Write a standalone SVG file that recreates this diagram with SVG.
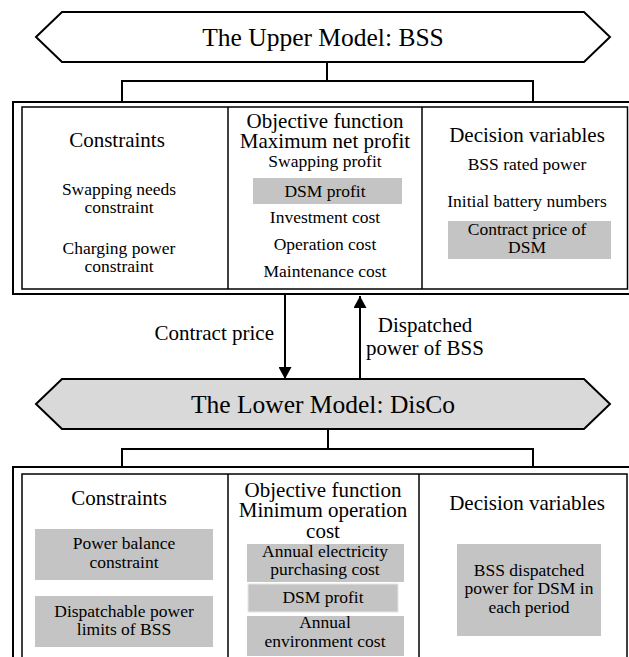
<svg xmlns="http://www.w3.org/2000/svg" width="629" height="657" viewBox="0 0 629 657">
<style>
text{font-family:"Liberation Serif","Times New Roman",serif;fill:#000;text-anchor:middle}
.t{font-size:25.5px}
.h{font-size:21px}
.b{font-size:17.5px}
.ln{stroke:#000;stroke-width:2;fill:none}
.thin{stroke:#000;stroke-width:1.5;fill:none}
.g{fill:#c4c4c4}
</style>
<defs>
<marker id="ah" viewBox="0 0 12 13" refX="12" refY="6.5" markerWidth="12" markerHeight="13" markerUnits="userSpaceOnUse" orient="auto">
<path d="M0,0 L12,6.5 L0,13 Z" fill="#000"/>
</marker>
</defs>
<rect width="629" height="657" fill="#fff"/>

<g id="upper-title">
<polygon points="36,37 62,12 584,12 610,37 584,62 62,62" fill="#fff" stroke="#000" stroke-width="2"/>
<text class="t" x="323" y="46">The Upper Model: BSS</text>
</g>

<g id="lower-title">
<polygon points="36,404 62,379 584,379 610,404 584,429 62,429" fill="#d9d9d9" stroke="#000" stroke-width="2"/>
<text class="t" x="323" y="413">The Lower Model: DisCo</text>
</g>

<g id="connectors">
<path class="ln" d="M327,62 V81 M122,102 V81 H533 V102"/>
<path class="ln" d="M328,429 V449 M122,467 V449 H533 V467"/>
<line class="ln" x1="285" y1="295" x2="285" y2="379" marker-end="url(#ah)"/>
<line class="ln" x1="360" y1="379" x2="360" y2="296" marker-end="url(#ah)"/>
<text class="h" x="274" y="340" style="text-anchor:end">Contract price</text>
<text class="h" x="425" y="332">Dispatched</text>
<text class="h" x="425" y="355">power of BSS</text>
</g>

<g id="upper-box">
<rect x="13" y="102" width="640" height="192" fill="#fff" stroke="#000" stroke-width="2"/>
<rect x="22" y="107" width="605.5" height="182" fill="none" stroke="#000" stroke-width="1.5"/>
<line class="thin" x1="228" y1="107" x2="228" y2="289"/>
<line class="thin" x1="422" y1="107" x2="422" y2="289"/>
</g>

<g id="upper-constraints">
<text class="h" x="117" y="147">Constraints</text>
<text class="b" x="119" y="195">Swapping needs</text>
<text class="b" x="119" y="213">constraint</text>
<text class="b" x="119" y="254">Charging power</text>
<text class="b" x="119" y="272">constraint</text>
</g>

<g id="upper-objective">
<text class="h" x="325" y="128">Objective function</text>
<text class="h" x="325" y="148">Maximum net profit</text>
<text class="b" x="325" y="167">Swapping profit</text>
<rect class="g" x="253" y="178" width="149" height="26"/>
<text class="b" x="325" y="197">DSM profit</text>
<text class="b" x="325" y="223">Investment cost</text>
<text class="b" x="325" y="250">Operation cost</text>
<text class="b" x="325" y="277">Maintenance cost</text>
</g>

<g id="upper-decision">
<text class="h" x="527" y="142">Decision variables</text>
<text class="b" x="527" y="170">BSS rated power</text>
<text class="b" x="527" y="207">Initial battery numbers</text>
<rect class="g" x="448" y="221" width="163" height="38"/>
<text class="b" x="527" y="235">Contract price of</text>
<text class="b" x="527" y="253">DSM</text>
</g>

<g id="lower-box">
<rect x="13" y="467" width="640" height="210" fill="#fff" stroke="#000" stroke-width="2"/>
<rect x="22" y="474" width="605" height="200" fill="none" stroke="#000" stroke-width="1.5"/>
<line class="thin" x1="228" y1="474" x2="228" y2="660"/>
<line class="thin" x1="419" y1="474" x2="419" y2="660"/>
</g>

<g id="lower-constraints">
<text class="h" x="119" y="505">Constraints</text>
<rect class="g" x="35" y="529" width="178" height="51"/>
<text class="b" x="124" y="549">Power balance</text>
<text class="b" x="124" y="568">constraint</text>
<rect class="g" x="35" y="596" width="178" height="51"/>
<text class="b" x="124" y="617">Dispatchable power</text>
<text class="b" x="124" y="635">limits of BSS</text>
</g>

<g id="lower-objective">
<text class="h" x="323" y="497">Objective function</text>
<text class="h" x="323" y="517">Minimum operation</text>
<text class="h" x="323" y="538">cost</text>
<rect class="g" x="247" y="544" width="157" height="38"/>
<text class="b" x="325" y="557">Annual electricity</text>
<text class="b" x="325" y="575">purchasing cost</text>
<rect class="g" x="248" y="584" width="150" height="28" stroke="#e6e6e6" stroke-width="1"/>
<text class="b" x="323" y="603">DSM profit</text>
<rect class="g" x="247" y="616" width="157" height="40"/>
<text class="b" x="325" y="628">Annual</text>
<text class="b" x="325" y="647">environment cost</text>
</g>

<g id="lower-decision">
<text class="h" x="527" y="510">Decision variables</text>
<rect class="g" x="457" y="544" width="144" height="92"/>
<text class="b" x="529" y="576">BSS dispatched</text>
<text class="b" x="529" y="594">power for DSM in</text>
<text class="b" x="529" y="613">each period</text>
</g>
</svg>
